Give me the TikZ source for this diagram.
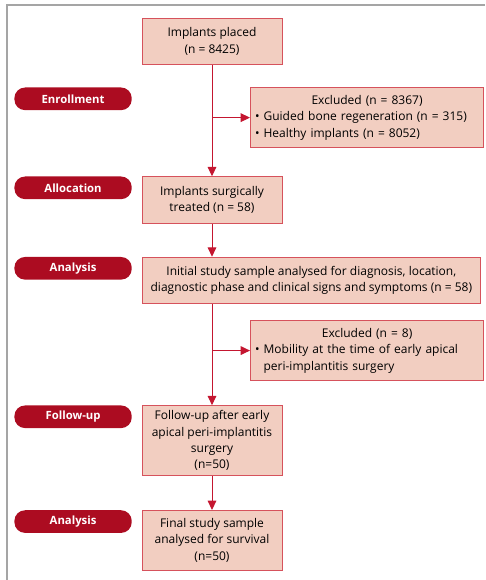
\documentclass[tikz,border=0pt]{standalone}
\usepackage{fontspec}
\setmainfont{Open Sans}
\usetikzlibrary{positioning, arrows.meta}
\definecolor{boxfill}{RGB}{242,206,193}
\definecolor{boxline}{RGB}{214,82,92}
\definecolor{accent}{RGB}{172,12,33}
\definecolor{arrowred}{RGB}{196,22,48}
\definecolor{framegray}{RGB}{165,165,165}
\tikzset{
  flowbox/.style={
    rectangle, draw=boxline, line width=0.6pt,
    fill=boxfill,
    minimum height=35pt, minimum width=105pt,
    align=center, font=\fontsize{9}{12.3}\selectfont, inner sep=2pt
  },
  flowbox-wide/.style={flowbox, minimum width=254pt},
  exclbox/.style={
    flowbox, align=left, text width=168pt,
    inner xsep=3.5pt, minimum height=45pt
  },
  pillbox/.style={
    rectangle, rounded corners=8pt,
    fill=accent, text=white,
    minimum height=17pt, minimum width=88pt,
    font=\fontsize{8.5}{10}\selectfont\bfseries
  },
  flowarrow/.style={
    -{Triangle[length=7pt,width=6.5pt]}, draw=arrowred, line width=0.75pt
  },
  frameline/.style={draw=framegray, line width=1.5pt}
}

\begin{document}
\begin{tikzpicture}[x=0.75pt, y=-0.75pt]
  \useasboundingbox (0,0) rectangle (485,580);
  \draw[frameline] (7,580) -- (7,5) -- (485,5);

  \coordinate (lblcol) at (132,0);

  \node[flowbox] (placed) at (212,41.5) {Implants placed\\(n = 8425)};
  \node[exclbox, anchor=north west] (excl1) at ([xshift=28.5pt, yshift=-16.5pt]placed.south)
    {\hbox to\hsize{\hfil Excluded (n = 8367)\hfil}\\
     \textbullet\ Guided bone regeneration (n = 315)\\
     \textbullet\ Healthy implants (n = 8052)};
  \node[flowbox, below=83.25pt of placed] (treated) {Implants surgically\\treated (n = 58)};
  \node[flowbox-wide, below=24.75pt of treated.south west, anchor=north west] (sample)
    {Initial study sample analysed for diagnosis, location,\\
     diagnostic phase and clinical signs and symptoms (n = 58)};
  \node[exclbox, anchor=north west] (excl2) at ([yshift=-12pt]sample.south -| excl1.west)
    {\hbox to\hsize{\hfil Excluded (n = 8)\hfil}\\
     \textbullet\ Mobility at the time of early apical\\
     \phantom{\textbullet\ }peri-implantitis surgery};
  \node[flowbox, minimum height=52.5pt, below=75.75pt of sample.south west, anchor=north west] (followup)
    {Follow-up after early\\apical peri-implantitis\\surgery\\(n=50)};
  \node[flowbox, minimum height=45pt, below=25.5pt of followup] (final)
    {Final study sample\\analysed for survival\\(n=50)};

  \node[pillbox, anchor=north east] (lbl-enrol) at (lblcol |- excl1.north) {Enrollment};
  \node[pillbox, anchor=north east] (lbl-alloc) at (lblcol |- treated.north) {Allocation};
  \node[pillbox, anchor=north east] (lbl-anal1) at (lblcol |- sample.north) {Analysis};
  \node[pillbox, anchor=north east] (lbl-follow) at (lblcol |- followup.north) {Follow-up};
  \node[pillbox, anchor=north east] (lbl-anal2) at (lblcol |- final.north) {Analysis};

  \draw[flowarrow] (placed.south) -- (treated.north);
  \draw[flowarrow] (placed.south |- excl1.west) -- (excl1.west);
  \draw[flowarrow] (treated.south) -- (treated.south |- sample.north);
  \draw[flowarrow] (treated.south |- sample.south) -- (followup.north);
  \draw[flowarrow] (followup.south |- excl2.west) -- (excl2.west);
  \draw[flowarrow] (followup.south) -- (final.north);
\end{tikzpicture}
\end{document}
